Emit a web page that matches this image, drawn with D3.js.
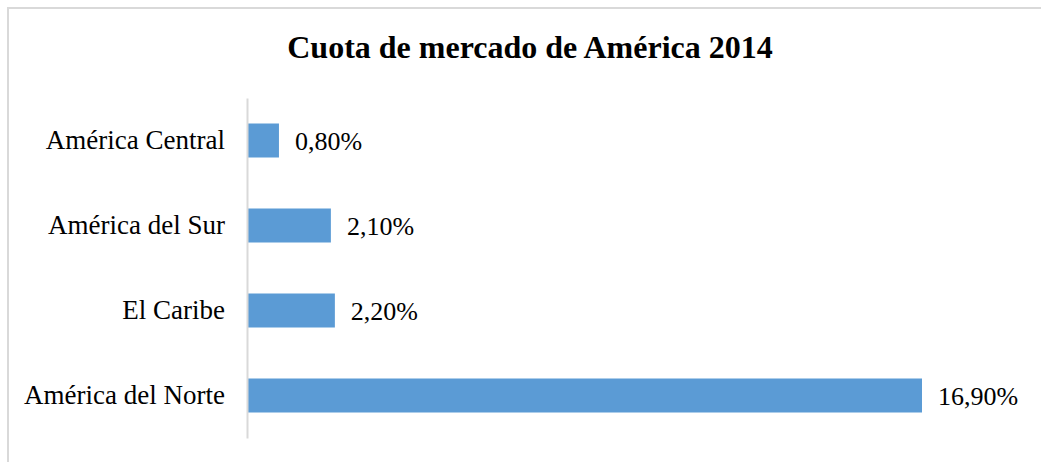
<!DOCTYPE html>
<html>
<head>
<meta charset="utf-8">
<script src="https://cdn.jsdelivr.net/npm/d3@7"></script>
<style>
  body { margin: 0; background: #fff; }
  text { font-family: "Liberation Serif", "Times New Roman", serif; fill: #000; }
</style>
</head>
<body>
<div id="chart"></div>
<script>
// chart data
var regions = ["América Central", "América del Sur", "El Caribe", "América del Norte"];
var shares = [0.8, 2.1, 2.2, 16.9];
var shareLabels = ["0,80%", "2,10%", "2,20%", "16,90%"];

var svgWidth = 1041;
var svgHeight = 462;

var svg = d3.select("#chart")
  .append("svg")
  .attr("width", svgWidth)
  .attr("height", svgHeight);

// light frame round the chart area
svg.append("rect")
  .attr("x", 8)
  .attr("y", 8)
  .attr("width", svgWidth)
  .attr("height", svgHeight)
  .attr("fill", "none")
  .attr("stroke", "#d9d9d9")
  .attr("stroke-width", 2);

// title
svg.append("text")
  .attr("x", 530)
  .attr("y", 58)
  .attr("text-anchor", "middle")
  .attr("font-size", 32)
  .attr("font-weight", "bold")
  .text("Cuota de mercado de América 2014");

var axisX = 247;

// scales
var xScale = d3.scaleLinear()
  .domain([0, 16.9])
  .range([axisX, 922]);

var yScale = d3.scaleBand()
  .domain(regions)
  .range([98, 438])
  .paddingInner(0.6)
  .paddingOuter(0.3);

var data = regions.map(function(r, i) {
  return { region: r, share: shares[i], label: shareLabels[i] };
});

// bars
svg.selectAll("rect.bar")
  .data(data)
  .enter()
  .append("rect")
  .attr("class", "bar")
  .attr("x", xScale(0))
  .attr("y", d => yScale(d.region))
  .attr("width", d => xScale(d.share) - xScale(0))
  .attr("height", yScale.bandwidth())
  .attr("fill", "#5b9bd5");

// category axis
var yAxis = d3.axisLeft(yScale).tickSize(0).tickPadding(22);
var axisG = svg.append("g")
  .attr("transform", `translate(${axisX}, 0)`)
  .call(yAxis);
axisG.select(".domain").attr("stroke", "#d9d9d9").attr("stroke-width", 2);
axisG.selectAll("text")
  .attr("font-size", 27)
  .attr("fill", "#000");

// value labels
svg.selectAll("text.value")
  .data(data)
  .enter()
  .append("text")
  .attr("class", "value")
  .attr("x", d => xScale(d.share) + 16)
  .attr("y", d => yScale(d.region) + yScale.bandwidth() / 2)
  .attr("dy", "0.35em")
  .attr("font-size", 26)
  .text(d => d.label);
</script>
</body>
</html>
